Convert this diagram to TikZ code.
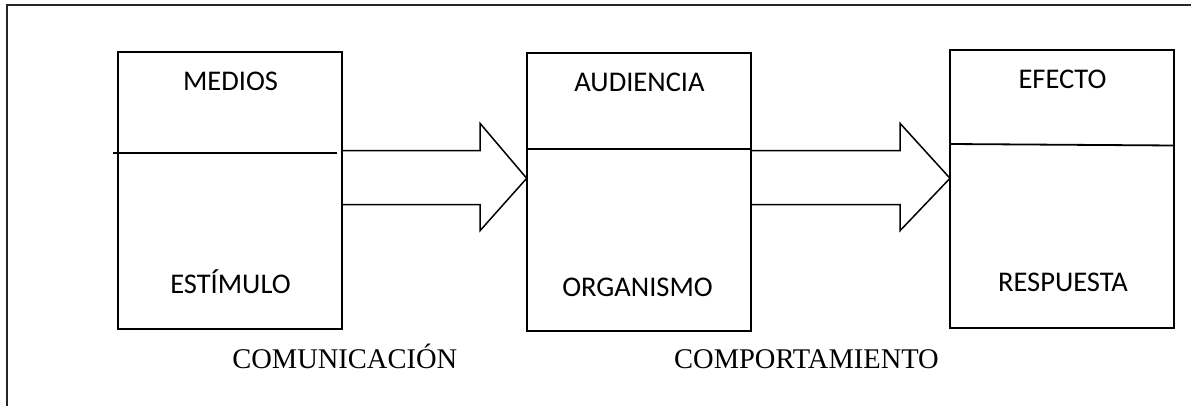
\documentclass[tikz,border=0pt]{standalone}
\usepackage{fontspec}
\newfontfamily\calib{Carlito}
\newfontfamily\tms{Liberation Serif}
\begin{document}
\begin{tikzpicture}[x=1pt,y=1pt,
  boxline/.style={draw=black,line width=1.8pt},
  cbox/.style={boxline,minimum width=224pt,inner sep=0pt,outer sep=0pt},
  lbl/.style={font=\calib\fontsize{28.5}{30}\selectfont,anchor=base,inner sep=0pt},
  captext/.style={font=\tms\fontsize{28.5}{30}\selectfont,anchor=base,inner sep=0pt},
  arrowline/.style={draw=black,line width=1.5pt,line join=miter}]
\useasboundingbox (0,0) rectangle (1191,405);
% frame
\draw[draw=black!85,line width=1.8pt] (7.3,-2) -- (7.3,400) -- (1195,400);
% boxes
\node[cbox,minimum height=277.3pt] (b1) at (230,214.65) {};
\node[cbox,minimum height=277.7pt] (b2) at (638.7,212.85) {};
\node[cbox,minimum width=224.3pt,minimum height=278.3pt] (b3) at (1062.15,215.85) {};
% dividers
\coordinate (d1l) at (113,252.3);
\coordinate (d1r) at (336.7,252.3);
\draw[boxline] (d1l) -- (d1r);
\draw[boxline] (b2.west |- 0,255.7) -- (b2.east |- 0,255.7);
\draw[boxline] (b3.west |- 0,261) -- (b3.east |- 0,259.5);
% block arrows
\draw[arrowline] (b1.east |- 0,254.3) -- (480,254.3) -- (480,281.7) -- (b2.west |- 0,226.7)
  -- (480,174.3) -- (480,200.5) -- (b1.east |- 0,200.5);
\draw[arrowline] (b2.east |- 0,254.3) -- (900,254.3) -- (900,281.7) -- (b3.west |- 0,226.7)
  -- (900,174.3) -- (900,200.5) -- (b2.east |- 0,200.5);
% labels
\node[lbl] (t1) at (230.5,314.3) {MEDIOS};
\node[lbl] (t2) at (230.5,111.7) {ESTÍMULO};
\node[lbl] (t3) at (639.5,313.3) {AUDIENCIA};
\node[lbl] (t4) at (637.5,108.3) {ORGANISMO};
\node[lbl] (t5) at (1062.5,316) {EFECTO};
\node[lbl] (t6) at (1063,113.3) {RESPUESTA};
\node[captext] (c1) at (344.8,37) {COMUNICACIÓN};
\node[captext] (c2) at (806.5,37) {COMPORTAMIENTO};
\end{tikzpicture}
\end{document}
